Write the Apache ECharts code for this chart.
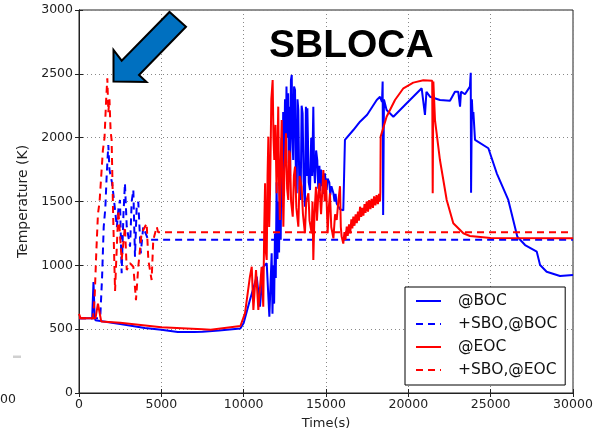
<!DOCTYPE html>
<html>
<head>
<meta charset="utf-8">
<script src="https://cdn.jsdelivr.net/npm/echarts@6/dist/echarts.min.js"></script>
<style>
  html, body { margin: 0; padding: 0; background: #fff; }
  #chart { width: 599px; height: 431px; }
</style>
</head>
<body>
<div id="chart"></div>
<script>
// Cladding temperature histories, small-break LOCA cases
const xTicks = [0, 5000, 10000, 15000, 20000, 25000, 30000];
const yTicks = [0, 500, 1000, 1500, 2000, 2500, 3000];

// @BOC
const bocTime = [0, 800, 880, 950, 1000, 2500, 4000, 5000, 6000, 7000, 7500, 8500, 9800, 10000, 10380, 10790, 10990, 11190, 11400, 11560, 11700,
  11750, 11800, 11850, 11900, 11950, 12000, 12050, 12100, 12150, 12200, 12250, 12300, 12350, 12400, 12450, 12510, 12560, 12600, 12650, 12700, 12740,
  12770, 12820, 12870, 12920, 12960, 13010, 13060, 13120, 13170, 13220, 13270, 13320, 13380, 13460, 13520, 13580, 13640, 13720, 13780, 13830, 13870,
  13950, 14030, 14100, 14160, 14230, 14280, 14330, 14400, 14470, 14530, 14600, 14640, 14700, 14760, 14800, 14870, 14930, 15040, 15100, 15200, 15260,
  15330, 15450, 15520, 15580, 15650, 15750, 15850, 15950, 16050, 16150, 16660, 17065, 17500, 18080, 18280, 18400, 18440, 18470, 18520, 18680, 19090,
  19900, 20810, 20900, 21010, 21100, 21315, 21920, 22530, 22830, 23030, 23140, 23200, 23440, 23740, 23790, 23810, 23860, 23910, 23950, 24050, 24860,
  25370, 26070, 26620, 27090, 27800, 28000, 28400, 29210, 30000];
const bocTemp = [585, 585, 870, 600, 570, 540, 510, 495, 478, 478, 480, 490, 505, 548, 728, 911, 676, 989, 1016, 598, 1094,
  620, 1000, 700, 1250, 900, 1650, 1050, 1500, 1100, 1800, 1200, 2000, 1500, 2200, 1700, 2300, 1900, 2400, 2000, 2347, 1800,
  2243, 1700, 2450, 2491, 2000, 1825, 2400, 2373, 1700, 1564, 2300, 2217, 1600, 1512, 2250, 2191, 1650, 1459, 2243, 1700, 2230,
  1650, 1590, 2000, 1700, 2243, 1750, 1643, 1900, 1825, 1600, 1780, 1580, 1750, 1620, 1700, 1560, 1720, 1590, 1680, 1650, 1550,
  1620, 1564, 1500, 1560, 1485, 1500, 1440, 1433, 1430, 1982, 2060, 2125, 2180, 2295, 2320, 2280, 2439, 1394, 2300, 2217, 2164,
  2269, 2387, 2380, 2178, 2360, 2321, 2295, 2290, 2360, 2360, 2243, 2360, 2340, 2400, 2509, 1569, 2300, 2150, 2200, 1982, 1917,
  1721, 1512, 1224, 1159, 1107, 1003, 950, 917, 925];

// +SBO,@BOC
const sboBocTime = [0, 1200, 1300, 1400, 1500, 1600, 1680, 1780, 1850, 2000, 2080, 2200, 2300, 2400, 2490, 2590, 2700, 2790, 2900, 3100, 3200, 3300, 3400, 3500, 3600, 3750, 3900, 4200, 30000];
const sboBocTemp = [585, 585, 620, 900, 1300, 1450, 1700, 1943, 1750, 1650, 1564, 1420, 1300, 1450, 1512, 938, 1400, 1643, 1300, 1146, 1500, 1590, 1068, 1450, 1498, 1094, 1300, 1200, 1200];

// @EOC
const eocTime = [0, 100, 1000, 1150, 1350, 2500, 5000, 7500, 8000, 9800, 9880, 10080, 10380, 10490, 10590, 10750, 10890, 11090, 11190,
  11250, 11300, 11350, 11400, 11450, 11500, 11550, 11600, 11680, 11760, 11810, 11860, 11930, 12000, 12050, 12100, 12150, 12200, 12250, 12310,
  12360, 12410, 12480, 12570, 12640, 12710, 12760, 12810, 12880, 12980, 13050, 13120, 13200, 13320, 13400, 13520, 13600, 13720, 13800, 13930,
  14000, 14130, 14180, 14230, 14300, 14390, 14450, 14530, 14600, 14700, 14840, 14920, 15000, 15100, 15170, 15240, 15320, 15450, 15550, 15650,
  15750, 15850, 15900, 15950, 16050, 16120, 16180, 16260, 16320, 16400, 16470, 16540, 16600, 16660, 16730, 16800, 16870, 16940, 17000, 17070,
  17140, 17200, 17270, 17340, 17400, 17470, 17550, 17620, 17700, 17770, 17850, 17920, 18000, 18070, 18150, 18220, 18280, 18300, 18320, 18680,
  19190, 19700, 20300, 20910, 21450, 21480, 21520, 21620, 21920, 22330, 22730, 23340, 23740, 25000, 30000];
const eocTemp = [620, 585, 585, 700, 560, 550, 515, 500, 495, 525, 520, 624, 911, 989, 650, 963, 650, 989, 676,
  1300, 1643, 1100, 1042, 1700, 2008, 1300, 1564, 2300, 2452, 2000, 1825, 2100, 1564, 1900, 2243, 1600, 1355, 1800, 2138,
  1700, 1303, 1750, 2034, 1600, 1512, 1900, 1877, 1500, 1381, 1700, 1773, 1450, 1303, 1700, 1616, 1400, 1251, 1500, 1564,
  1350, 1251, 1500, 1042, 1400, 1616, 1350, 1550, 1643, 1400, 1747, 1500, 1669, 1251, 1450, 1564, 1300, 1211, 1400, 1355,
  1500, 1620, 1300, 1225, 1170, 1260, 1200, 1303, 1230, 1320, 1250, 1360, 1290, 1381, 1310, 1400, 1330, 1420, 1350, 1459,
  1380, 1450, 1390, 1480, 1410, 1500, 1420, 1510, 1440, 1520, 1450, 1540, 1470, 1550, 1480, 1560, 1500, 1570, 2008, 2164,
  2295, 2387, 2431, 2450, 2446, 1564, 2440, 2138, 1825, 1512, 1329, 1251, 1230, 1215, 1212];

// +SBO,@EOC
const sboEocTime = [0, 850, 950, 1050, 1150, 1250, 1350, 1450, 1550, 1650, 1720, 1780, 1850, 1920, 1980, 2080, 2190, 2250, 2390, 2590, 2790, 2900, 3100, 3300, 3460, 3600, 3800, 4110, 4210, 4410, 4510, 4720, 4800, 30000];
const sboEocTemp = [585, 585, 750, 1100, 1400, 1500, 1700, 1900, 2000, 2300, 2465, 2200, 2300, 2050, 1982, 1355, 800, 1000, 1433, 1042, 1303, 963, 1016, 989, 728, 989, 1251, 1329, 1042, 885, 1198, 1303, 1260, 1260];

const seriesNames = ['@BOC', '+SBO,@BOC', '@EOC', '+SBO,@EOC'];

function pairs(t, v) { return t.map((x, i) => [x, v[i]]); }

const FONT = 'DejaVu Sans';
const chart = echarts.init(document.getElementById('chart'), null, { renderer: 'canvas' });

function lineSeries(name, t, v, color, dashed, z) {
  return {
    name: name,
    type: 'line',
    data: pairs(t, v),
    symbol: 'none',
    showSymbol: false,
    animation: false,
    z: z,
    lineStyle: { color: color, width: 2, type: dashed ? [7, 5] : 'solid' },
    itemStyle: { color: color }
  };
}

const gridLine = { show: true, lineStyle: { color: '#888', width: 1, type: [1, 3] } };
const plain = v => String(v);

chart.setOption({
  animation: false,
  backgroundColor: '#fff',
  grid: {
    left: 79, right: 26, top: 10, bottom: 38,
    outerBoundsMode: 'none', containLabel: false,
    show: true, borderColor: '#222', borderWidth: 1
  },
  xAxis: [{
    type: 'value', min: xTicks[0], max: xTicks[xTicks.length - 1], interval: xTicks[1] - xTicks[0],
    name: 'Time(s)', nameLocation: 'middle', nameGap: 24,
    nameTextStyle: { fontFamily: FONT, fontSize: 13, color: '#222' },
    axisLine: { show: true, lineStyle: { color: '#222' } },
    axisTick: { show: true, inside: true, length: 4, lineStyle: { color: '#222' } },
    axisLabel: { fontFamily: FONT, fontSize: 12.5, color: '#222', margin: 5, formatter: plain },
    splitLine: gridLine
  }, {
    type: 'value', min: xTicks[0], max: xTicks[xTicks.length - 1], interval: xTicks[1] - xTicks[0], position: 'top',
    axisLine: { show: true, lineStyle: { color: '#222' } },
    axisTick: { show: true, inside: true, length: 4, lineStyle: { color: '#222' } },
    axisLabel: { show: false }, splitLine: { show: false }
  }],
  yAxis: [{
    type: 'value', min: yTicks[0], max: yTicks[yTicks.length - 1], interval: yTicks[1] - yTicks[0],
    name: 'Temperature (K)', nameLocation: 'middle', nameGap: 27,
    nameTextStyle: { fontFamily: FONT, fontSize: 14, color: '#222' },
    axisLine: { show: true, lineStyle: { color: '#222' } },
    axisTick: { show: true, inside: true, length: 4, lineStyle: { color: '#222' } },
    axisLabel: { fontFamily: FONT, fontSize: 12.5, color: '#222', margin: 6, formatter: plain },
    splitLine: gridLine
  }, {
    type: 'value', min: yTicks[0], max: yTicks[yTicks.length - 1], interval: yTicks[1] - yTicks[0], position: 'right',
    axisLine: { show: true, lineStyle: { color: '#222' } },
    axisTick: { show: true, inside: true, length: 4, lineStyle: { color: '#222' } },
    axisLabel: { show: false }, splitLine: { show: false }
  }],
  legend: {
    data: seriesNames,
    orient: 'vertical',
    left: 405, top: 287,
    padding: [6, 8, 7, 10],
    itemWidth: 25, itemHeight: 14, itemGap: 7,
    itemStyle: { opacity: 0 },
    backgroundColor: '#fff',
    borderColor: '#000', borderWidth: 1, borderRadius: 0,
    textStyle: { fontFamily: FONT, fontSize: 15.5, color: '#111', lineHeight: 16, padding: [0, 0, 0, 12] }
  },
  series: [
    lineSeries(seriesNames[0], bocTime, bocTemp, '#0000ff', false, 3),
    lineSeries(seriesNames[1], sboBocTime, sboBocTemp, '#0000ff', true, 2),
    lineSeries(seriesNames[2], eocTime, eocTemp, '#ff0000', false, 4),
    lineSeries(seriesNames[3], sboEocTime, sboEocTemp, '#ff0000', true, 5)
  ],
  graphic: [
    {
      type: 'text', x: 269, y: 46, z: 20,
      style: { text: 'SBLOCA', fontFamily: 'Liberation Sans', fontWeight: 'bold', fontSize: 39, fill: '#000', textVerticalAlign: 'middle' }
    },
    {
      type: 'polygon', z: 20,
      shape: { points: [[113.5, 81.5], [113.5, 50], [121.7, 60.7], [169.5, 12], [186, 26.7], [139, 75], [146.5, 82]] },
      style: { fill: '#0070c0', stroke: '#000', lineWidth: 2, lineJoin: 'miter' }
    },
    {
      type: 'text', x: 0, y: 400, z: 20,
      style: { text: '00', fontFamily: FONT, fontSize: 12.5, fill: '#222', textVerticalAlign: 'middle' }
    },
    {
      type: 'rect', z: 20,
      shape: { x: 13, y: 355.5, width: 8, height: 2.5 },
      style: { fill: '#d0d0d0' }
    }
  ]
});
</script>
</body>
</html>
